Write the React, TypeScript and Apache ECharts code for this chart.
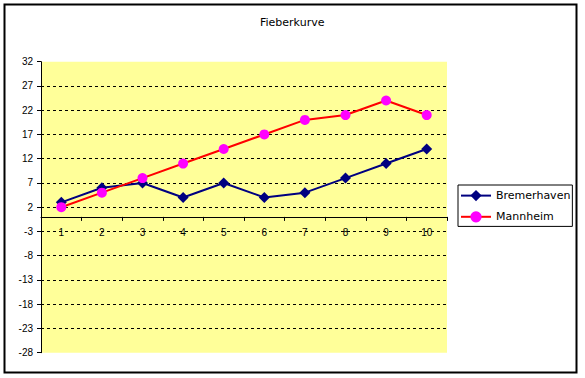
import React, { useEffect, useRef } from "react";
import * as echarts from "echarts";

const categories = ["1", "2", "3", "4", "5", "6", "7", "8", "9", "10"];
const bremerhaven = [3, 6, 7, 4, 7, 4, 5, 8, 11, 14];
const mannheim = [2, 5, 8, 11, 14, 17, 20, 21, 24, 21];
const titleText = "Fieberkurve";

export default function App() {
  const ref = useRef<HTMLDivElement>(null);
  useEffect(() => {
    document.body.style.margin = "0";
    const chart = echarts.init(ref.current!, null, { renderer: "svg" });
    const font = "Liberation Sans";
    const gridTop = 61.7;
    const gridHeight = 291;
    const yMin = -28;
    const yMax = 32;
    const zeroOffset = -((0 - yMin) / (yMax - yMin)) * gridHeight;
    chart.setOption({
      animation: false,
      backgroundColor: "#ffffff",
      title: {
        text: titleText,
        left: 260,
        top: 17,
        padding: 0,
        textStyle: { fontFamily: "DejaVu Sans", fontSize: 11, fontWeight: "normal", color: "#000" },
      },
      graphic: [
        {
          type: "rect",
          shape: { x: 4.5, y: 4.5, width: 572, height: 368 },
          style: { fill: "none", stroke: "#000", lineWidth: 2 },
          z: 100,
        },
      ],
      legend: {
        orient: "vertical",
        left: 458,
        top: 185,
        padding: [5, 2, 4, 2],
        itemGap: 10,
        itemWidth: 30,
        itemHeight: 14,
        borderColor: "#000",
        borderWidth: 1,
        textStyle: { fontFamily: "DejaVu Sans", fontSize: 11, color: "#000" },
        data: ["Bremerhaven", "Mannheim"],
      },
      grid: {
        left: 41,
        top: gridTop,
        width: 406,
        height: gridHeight,
        show: true,
        backgroundColor: "#FFFF99",
        borderWidth: 0,
      },
      xAxis: {
        type: "category",
        data: categories,
        boundaryGap: true,
        offset: zeroOffset,
        axisLine: { onZero: false, lineStyle: { color: "#000", width: 1 } },
        axisTick: { show: true, length: 4, lineStyle: { color: "#000" } },
        axisLabel: { fontFamily: font, fontSize: 10, color: "#000", margin: 11 },
        splitLine: { show: false },
      },
      yAxis: {
        type: "value",
        min: yMin,
        max: yMax,
        interval: 5,
        axisLine: { show: true, onZero: false, lineStyle: { color: "#000", width: 1 } },
        axisTick: { show: true, length: 4, lineStyle: { color: "#000" } },
        axisLabel: { fontFamily: font, fontSize: 10, color: "#000", margin: 8 },
        splitLine: {
          show: true,
          showMinLine: false,
          showMaxLine: false,
          lineStyle: { color: "#000", type: [3, 3], width: 1 },
        },
      },
      series: [
        {
          name: "Bremerhaven",
          type: "line",
          data: bremerhaven,
          symbol: "diamond",
          symbolSize: 11,
          itemStyle: { color: "#000080" },
          lineStyle: { color: "#000080", width: 2 },
        },
        {
          name: "Mannheim",
          type: "line",
          data: mannheim,
          symbol: "circle",
          symbolSize: 10,
          itemStyle: { color: "#FF00FF" },
          lineStyle: { color: "#FF0000", width: 2 },
        },
      ],
    });
    return () => chart.dispose();
  }, []);
  return (
    <div
      ref={ref}
      style={{ position: "absolute", left: 0, top: 0, width: 585, height: 378 }}
    />
  );
}
